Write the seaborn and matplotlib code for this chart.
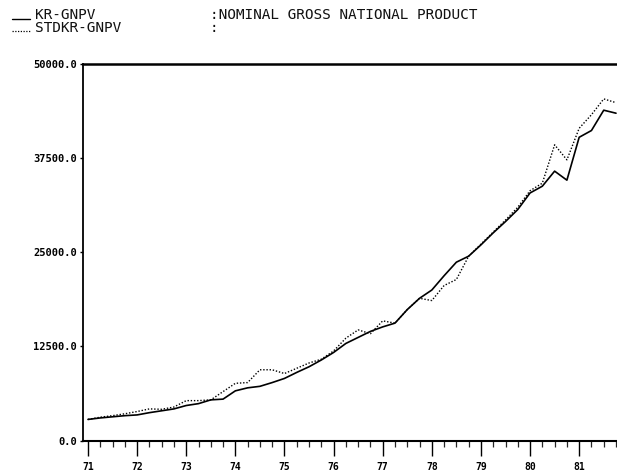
import numpy as np
import pandas as pd
import matplotlib
matplotlib.use("Agg")
import matplotlib.pyplot as plt
from matplotlib.lines import Line2D
from matplotlib.ticker import MultipleLocator, FixedLocator
import seaborn as sns

# ---- data (quarterly, 1971Q1 .. 1981Q4) ----
years = [71 + q / 4 for q in range(44)]
kr_gnpv = [2800, 3000, 3150, 3300, 3400, 3700, 3950, 4200,
           4650, 4900, 5400, 5500, 6600, 7000, 7200, 7700,
           8250, 9050, 9800, 10700, 11700, 12900, 13700, 14500,
           15100, 15600, 17400, 18900, 20000, 21900, 23700, 24500,
           26000, 27600, 29100, 30700, 32900, 33800, 35800, 34600,
           40300, 41200, 43900, 43500]
stdkr_gnpv = [2800, 3100, 3300, 3550, 3850, 4200, 4150, 4450,
              5300, 5300, 5400, 6500, 7600, 7700, 9400, 9400,
              8900, 9600, 10300, 10800, 11900, 13600, 14700, 14200,
              15900, 15600, 17400, 18900, 18600, 20600, 21400, 24500,
              26100, 27700, 29300, 31000, 33200, 34200, 39300, 37300,
              41500, 43300, 45400, 44900]
y_ticks = [0, 12500, 25000, 37500, 50000]
x_ticks = list(range(71, 82))
x_labels = [str(v) for v in x_ticks]
legend_names = ["KR-GNPV", "STDKR-GNPV"]
title_text = ":NOMINAL GROSS NATIONAL PRODUCT"

df = pd.DataFrame({"year": years, "KR": kr_gnpv, "STDKR": stdkr_gnpv})

sns.set_style("white")
plt.rcParams["font.family"] = ["DejaVu Sans Mono", "DejaVu Sans"]

W, H = 617, 473
fig = plt.figure(figsize=(W / 100, H / 100), dpi=100)
left, right, top, bottom = 83, 617, 64.3, 440.5
ax = fig.add_axes([left / W, 1 - bottom / H, (right - left) / W, (bottom - top) / H])

sns.lineplot(data=df, x="year", y="KR", ax=ax, color="black", linewidth=1.2)
sns.lineplot(data=df, x="year", y="STDKR", ax=ax, color="black", linewidth=1.0,
             linestyle=(0, (1, 1.3)))

ax.set_xlim(71 - 5 / 49.2, 81.77)
ax.set_ylim(0, 50000)
ax.set_xlabel("")
ax.set_ylabel("")

ax.yaxis.set_major_locator(FixedLocator(y_ticks))
ax.set_yticklabels([f"{v:.1f}" for v in y_ticks])
ax.xaxis.set_major_locator(FixedLocator(x_ticks))
ax.set_xticklabels(x_labels)
ax.xaxis.set_minor_locator(MultipleLocator(0.25))

ax.tick_params(axis="x", which="major", direction="out", length=10.5, width=1.0,
               pad=5, labelsize=7, colors="black", bottom=True)
ax.tick_params(axis="x", which="minor", direction="out", length=4.3, width=0.9,
               bottom=True)
ax.tick_params(axis="y", which="major", direction="out", length=2.5, width=1.0,
               pad=2, labelsize=7.5, colors="black", left=True)
for lab in ax.get_xticklabels() + ax.get_yticklabels():
    lab.set_fontweight("bold")

for side in ["left", "bottom", "top"]:
    ax.spines[side].set_visible(True)
    ax.spines[side].set_color("black")
ax.spines["left"].set_linewidth(1.3)
ax.spines["bottom"].set_linewidth(1.5)
ax.spines["top"].set_linewidth(1.8)
ax.spines["right"].set_visible(False)
ax.grid(False)

# ---- header legend ----
def fx(px):
    return px / W

def fy(py):
    return 1 - py / H

fig.add_artist(Line2D([fx(12), fx(30)], [fy(19.5), fy(19.5)], color="black",
                      linewidth=1.0, transform=fig.transFigure))
fig.add_artist(Line2D([fx(12), fx(30)], [fy(31.5), fy(31.5)], color="black",
                      linewidth=0.9, linestyle=(0, (1, 1.2)), transform=fig.transFigure))
hdr = dict(fontsize=10.4, va="center", ha="left", color="#111111")
fig.text(fx(35), fy(15), legend_names[0], **hdr)
fig.text(fx(35), fy(27.5), legend_names[1], **hdr)
fig.text(fx(210), fy(15), title_text, **hdr)
fig.text(fx(210), fy(27.5), ":", **hdr)

fig.savefig("out.png", dpi=100, facecolor="white")
